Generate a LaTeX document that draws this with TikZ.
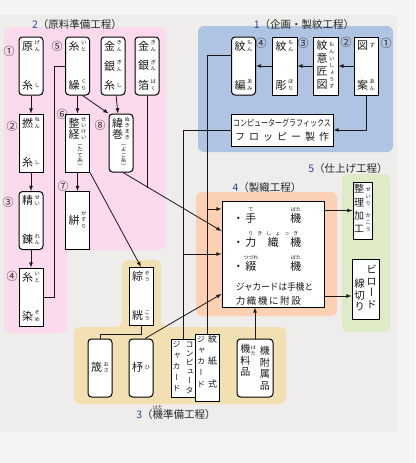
\documentclass[tikz,border=0pt]{standalone}
\usepackage{fontspec}
\usepackage{graphicx}
\setmainfont{Noto Sans CJK JP}
\newfontfamily\tatefont[RawFeature=+vert]{Noto Sans CJK JP}
\usetikzlibrary{arrows}
\usetikzlibrary{positioning}

\definecolor{bgcol}{HTML}{EFEDEB}
\definecolor{bgpale}{HTML}{F6F4F3}
\definecolor{pinkcol}{HTML}{FCDAEE}
\definecolor{bluecol}{HTML}{AFC4E2}
\definecolor{peachcol}{HTML}{FCD1B3}
\definecolor{greencol}{HTML}{DFEBC6}
\definecolor{tancol}{HTML}{F2E0B2}
\definecolor{numcol}{HTML}{2B4A96}

\ExplSyntaxOn
\cs_new:Npn \tatemap #1#2 { \tl_map_inline:nn {#2} { #1 {##1} } }
\ExplSyntaxOff

% vertical text: size, pitch, characters
\newlength\tpitch
\newcommand\tchar[1]{\hbox to 1em{\hss\vrule width 0pt height .88em depth \dimexpr\tpitch-.88em\relax #1\hss}}
\newcommand\tstack[3]{\vtop{\offinterlineskip\tatefont\fontsize{#1}{#1}\selectfont\setlength\tpitch{#2}\tatemap\tchar{#3}}}
% kanji with ruby on the right
\newcommand\kfs{11pt}\newcommand\kpt{12pt}\newcommand\rfs{5.3pt}\newcommand\rpt{6.4pt}
\newcommand\kr[2]{\hbox{$\vcenter{\hbox{\tstack{\kfs}{\kpt}{#1}}}\kern1.6pt\vcenter{\hbox{\tstack{\rfs}{\rpt}{#2}}}$}}
\newcommand\tbody[2]{\vbox to 52pt{\hsize=#1\offinterlineskip #2\kern0pt}}
\newcommand\ti[1]{\hbox to \hsize{\hss#1\hss}}
% ruby above
\newcommand\hruby[3][11pt]{\ooalign{#2\cr\hidewidth\smash{\raisebox{#1}{\fontsize{5pt}{5pt}\selectfont #3}}\hidewidth\cr}}
\newcommand\dotm{・\hspace{1.5pt}}

\begin{document}
\begin{tikzpicture}[x=1pt,y=-1pt,
    tbox/.style={draw=black, fill=white, line width=1pt, inner sep=0pt,
        minimum width=24pt, minimum height=58pt, text=black!90},
    rbox/.style={tbox, rounded corners=3.5pt},
    num/.style={inner sep=0pt, font=\fontsize{11pt}{11pt}\selectfont, text=black!85},
    ttl/.style={inner sep=0pt, font=\fontsize{10.5pt}{12pt}\selectfont, text=black!85},
    conn/.style={draw=black!90, line width=0.8pt},
    arr/.style={conn, -latex},
    region/.style={rounded corners=6pt}]

    \useasboundingbox (0,0) rectangle (415,463);
    \fill[bgcol] (0,0) rectangle (415,463);
    \fill[bgpale] (0,0) rectangle (415,15);
    \fill[bgpale] (0,432) rectangle (415,463);
    \fill[bgpale] (397,15) rectangle (415,432);

    \fill[pinkcol, region] (4,27) -- (166,27) -- (166,250) -- (67,250) -- (67,333) -- (4,333) -- cycle;
    \fill[bluecol, region] (198,26) rectangle (393,152);
    \fill[peachcol, region] (196,192) rectangle (337,316);
    \fill[greencol, region] (342,174) rectangle (390,332);
    \fill[tancol, region] (74,327) -- (122,327) -- (122,260) -- (161,260) -- (161,327)
        -- (286,327) -- (286,404) -- (74,404) -- cycle;

    \node[ttl] (t2) at (77,25) {\textcolor{numcol}{2}（原料準備工程）};
    \node[ttl] (t1) at (304,25) {\textcolor{numcol}{1}（企画・製紋工程）};
    \node[ttl] (t4) at (267,188) {\textcolor{numcol}{4}（製織工程）};
    \node[ttl] (t5) at (348,169) {\textcolor{numcol}{5}（仕上げ工程）};
    \node[ttl] (t3) at (176,415) {\textcolor{numcol}{3}（\hruby[9pt]{機}{はた}準備工程）};

    % 原料準備
    \node[rbox] (genshi) at (31,66) {\tbody{20pt}{\ti{\kr{原}{げん}}\vfill\ti{\kr{糸}{し}}}};
    \node[tbox] (nenshi) at (31,143) {\tbody{20pt}{\ti{\kr{撚}{ねん}}\vfill\ti{\kr{糸}{し}}}};
    \node[rbox] (seiren) at (31,220.5) {\tbody{20pt}{\ti{\kr{精}{せい}}\vfill\ti{\kr{錬}{れん}}}};
    \node[tbox] (itozome) at (31,297) {\tbody{20pt}{\ti{\kr{糸}{いと}}\vfill\ti{\kr{染}{そめ}}}};
    \node[rbox] (itokuri) at (77.5,66) {\tbody{20pt}{\ti{\kr{糸}{いと}}\vfill\ti{\kr{繰}{くり}}}};
    \node[rbox] (kinginshi) at (113,66) {\tbody{20pt}{\ti{\kr{金}{きん}}\vfill\ti{\kr{銀}{ぎん}}\vfill\ti{\kr{糸}{し}}}};
    \node[rbox] (kinginhaku) at (147,66) {\tbody{20pt}{\ti{\kr{金}{きん}}\vfill\ti{\kr{銀}{ぎん}}\vfill\ti{\kr{箔}{はく}}}};
    \node[tbox] (seikei) at (77.5,143) {\tbody{20pt}{\def\kpt{11.5pt}\def\rpt{6pt}\ti{\kr{整経}{せいけい}}\vfill\ti{\hskip5pt\tstack{5.5pt}{5.6pt}{（たて糸）}}}};
    \node[rbox] (nukimaki) at (121,143) {\tbody{20pt}{\def\kpt{11.5pt}\def\rpt{6pt}\ti{\kr{緯巻}{ぬきまき}}\vfill\ti{\hskip5pt\tstack{5.5pt}{5.6pt}{（よこ糸）}}}};
    \node[tbox] (kasuri) at (77.5,220.5) {\tbody{20pt}{\vfill\ti{\kr{絣}{かすり}}\vfill}};

    \node[num] (n1) at (9,51) {①};
    \node[num] (n2) at (12,126) {②};
    \node[num] (n3) at (8,202) {③};
    \node[num] (n4) at (12,276) {④};
    \node[num] (n5) at (57,46) {⑤};
    \node[num] (n6) at (62,114) {⑥};
    \node[num] (n7) at (63,186) {⑦};
    \node[num] (n8) at (100,125) {⑧};

    % 機準備
    \node[tbox] (soukou) at (141,296.5) {\tbody{20pt}{\ti{\kr{綜}{そう}}\vfill\ti{\kr{絖}{こう}}}};
    \node[rbox] (osa) at (100,368) {\tbody{20pt}{\vfill\ti{\kr{筬}{おさ}}\vfill}};
    \node[rbox] (hi) at (141,368) {\tbody{20pt}{\vfill\ti{\kr{杼}{ひ}}\vfill}};
    \node[tbox] (cjac) at (183,368) {\hbox{\tstack{8pt}{11.2pt}{ジャカード}\kern5pt\tstack{8pt}{9.2pt}{コンピュータ}}};
    \node[tbox] (mjac) at (207,368) {\hbox{\tstack{8pt}{11.2pt}{ジャカード}\kern3pt\tstack{9pt}{22.4pt}{紋紙式}}};
    \node[rbox, minimum width=36pt] (kiryou) at (255,368) {\hbox{\tstack{10pt}{11.5pt}{機料品}\kern.5pt\raise3pt\hbox{\tstack{5pt}{5.5pt}{はた}}\kern4pt\lower2pt\hbox{\tstack{10pt}{11.5pt}{機附属品}}}};

    % 企画・製紋
    \node[tbox] (zuan) at (366,66) {\tbody{20pt}{\ti{\kr{図}{ず}}\vfill\ti{\kr{案}{あん}}}};
    \node[tbox, minimum width=25pt] (moniso) at (325.5,66) {\tbody{21pt}{\vfill\ti{\def\kpt{13pt}\def\rpt{7pt}\kr{紋意匠図}{もんいしょうず}}\vfill}};
    \node[tbox, minimum width=25pt] (monhori) at (284.5,66) {\tbody{21pt}{\ti{\kr{紋}{もん}}\vfill\ti{\kr{彫}{ほり}}}};
    \node[rbox] (monami) at (243.5,66) {\tbody{20pt}{\ti{\kr{紋}{もん}}\vfill\ti{\kr{編}{あみ}}}};
    \node[tbox, minimum width=102pt, minimum height=32pt, align=center,
        font=\fontsize{10pt}{14.5pt}\selectfont] (floppy) at (282,130)
        {\scalebox{0.78}[1]{\fontsize{9pt}{9pt}\selectfont コンピューターグラフィックス}\\
         \makebox[94pt][s]{フ\hfil ロ\hfil ッ\hfil ピ\hfil ー\hfil 製\hfil 作}};

    \node[num] (m1) at (386,43) {①};
    \node[num] (m2) at (346,42) {②};
    \node[num] (m3) at (303,43) {③};
    \node[num] (m4) at (261,43) {④};

    % 製織
    \node[tbox, minimum width=102pt, minimum height=106pt, align=left,
        font=\fontsize{11pt}{13pt}\selectfont] (loom) at (273,254)
        {\rule{0pt}{19pt}\dotm\hruby{手}{て}\hspace{34pt}\hruby{機}{ばた}\\[11pt]
         \dotm\hruby{力\hspace{11.5pt}織\hspace{11.5pt}機}{\makebox[50pt][s]{り\hfil き\hfil し\hfil ょ\hfil っ\hfil き}}\\[11pt]
         \dotm\hruby{綴}{つづれ}\hspace{34pt}\hruby{機}{ばた}\\[7pt]
         \hspace{3pt}\scalebox{0.91}[1]{\fontsize{9.5pt}{13pt}\selectfont ジャカードは手機と}\\[1pt]
         \hspace{3pt}{\fontsize{9.5pt}{13pt}\selectfont\makebox[65pt][s]{力\hfil 織\hfil 機\hfil に\hfil 附\hfil 設}}};

    % 仕上げ
    \node[tbox, minimum width=19pt, minimum height=57pt] (seiri) at (362.5,210.5)
        {\vbox{\offinterlineskip\def\kfs{10pt}\def\kpt{13.3pt}\def\rpt{7pt}\hbox{\kr{整理}{せいり}}\hbox{\kr{加工}{かこう}}}};
    \node[tbox, minimum width=27pt, minimum height=60pt] (velvet) at (365.5,289)
        {\hbox{\lower14pt\hbox{\tstack{10.5pt}{11.5pt}{線切り}}\kern1.5pt\tstack{10.5pt}{11.5pt}{ビロード}}};

    % connectors
    \draw[arr] (genshi) -- (nenshi);
    \draw[arr] (nenshi) -- (seiren);
    \draw[arr] (seiren) -- (itozome);
    \draw[arr] (itokuri) -- (seikei);
    \draw[arr] ([xshift=5pt]itokuri.south) -- (nukimaki.north west);
    \draw[arr] (kinginshi) -- (nukimaki);
    \draw[arr] (seikei) -- (kasuri);
    \draw[conn] (itozome.east) -| ([xshift=-11pt]itokuri.west) -- (itokuri.west);

    \coordinate (weftin) at (loom.west |- 0,231);
    \coordinate (hakujoin) at (147,188);
    \coordinate (shuttlein) at (loom.west |- 0,294);
    \draw[arr] ([xshift=2pt]nukimaki.south) -- (weftin);
    \draw[conn] (kinginhaku.south) -- (hakujoin);
    \draw[arr] (seikei.south east) -- (soukou.north);
    \draw[conn] (soukou.south) -- ++(0,8) -| (osa.north);
    \draw[arr] ([xshift=4pt]hi.north) -- (shuttlein);

    \draw[arr] (zuan) -- (moniso);
    \draw[arr] (moniso) -- (monhori);
    \draw[arr] (monhori) -- (monami);
    \draw[arr] (zuan.south) |- (floppy.east);
    \draw[conn] (floppy.west) -| (cjac.north);
    \draw[conn] ([yshift=11pt]monami.west) -| (mjac.north);

    \coordinate (jA) at (mjac.north |- 0,209);
    \coordinate (jB) at (cjac.north |- 0,254);
    \draw[arr] (jA) -- (loom.west |- jA);
    \draw[arr] (jB) -- (loom.west |- jB);
    \draw[arr] (kiryou.north) -- (kiryou.north |- loom.south);

    \coordinate (velvetin) at (velvet.west |- 0,296);
    \draw[arr] (loom.east |- seiri.west) -- (seiri.west);
    \draw[arr] (loom.east |- velvetin) -- (velvetin);
\end{tikzpicture}
\end{document}
